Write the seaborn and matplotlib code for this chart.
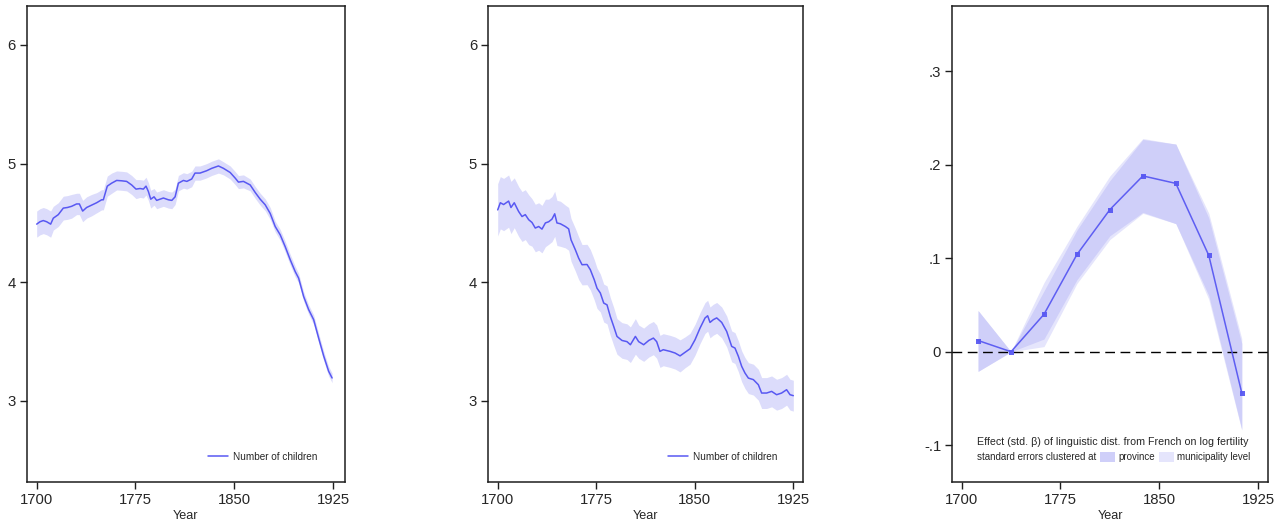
import numpy as np
import pandas as pd
import matplotlib
matplotlib.use("Agg")
import matplotlib.pyplot as plt
import seaborn as sns
from matplotlib.patches import Patch

# ---------------- data ----------------
years1 = [1700, 1702.5, 1705, 1707.6, 1710.6, 1712.6, 1716.4, 1720.2, 1723.3, 1726.5,
          1730.3, 1732.4, 1734.9, 1737.9, 1741.7, 1745.5, 1749.3, 1750.6, 1753.6, 1756.9,
          1760.7, 1764.5, 1768.3, 1772.1, 1775.4, 1778.5, 1781, 1783, 1784.8, 1786.6,
          1789.1, 1791.1, 1796.2, 1800, 1802.6, 1805.1, 1807.6, 1811.4, 1814, 1817.7,
          1820.2, 1824, 1829.1, 1832.9, 1838, 1841.8, 1846.9, 1850.7, 1853.2, 1857,
          1862.1, 1865.9, 1869.7, 1873.5, 1877.3, 1881.1, 1884.9, 1888.7, 1892.5, 1896.3,
          1898.9, 1902.7, 1906.5, 1910.3, 1914.1, 1917.9, 1921.7, 1924.3]
children1 = [4.49, 4.51, 4.52, 4.51, 4.49, 4.54, 4.57, 4.625, 4.63, 4.64,
             4.66, 4.66, 4.60, 4.63, 4.65, 4.67, 4.695, 4.695, 4.81, 4.835,
             4.858, 4.855, 4.85, 4.82, 4.785, 4.79, 4.785, 4.81, 4.765, 4.70,
             4.72, 4.69, 4.71, 4.695, 4.69, 4.72, 4.835, 4.858, 4.85, 4.87,
             4.92, 4.92, 4.94, 4.96, 4.98, 4.96, 4.925, 4.878, 4.844, 4.85,
             4.82, 4.757, 4.70, 4.653, 4.58, 4.47, 4.40, 4.30, 4.19, 4.09,
             4.035, 3.88, 3.77, 3.685, 3.53, 3.38, 3.25, 3.194]
halfci1 = [0.11, 0.11, 0.11, 0.11, 0.11, 0.10, 0.10, 0.10, 0.10, 0.10,
           0.09, 0.09, 0.09, 0.09, 0.09, 0.085, 0.085, 0.085, 0.085, 0.085,
           0.08, 0.08, 0.08, 0.08, 0.08, 0.075, 0.075, 0.075, 0.075, 0.075,
           0.07, 0.07, 0.07, 0.07, 0.07, 0.065, 0.065, 0.065, 0.065, 0.065,
           0.06, 0.06, 0.06, 0.06, 0.06, 0.055, 0.055, 0.055, 0.055, 0.055,
           0.05, 0.05, 0.05, 0.05, 0.05, 0.045, 0.045, 0.045, 0.045, 0.045,
           0.04, 0.04, 0.04, 0.04, 0.04, 0.04, 0.04, 0.04]

years2 = [1700, 1702, 1704.5, 1708.3, 1710.1, 1712.6, 1715.9, 1718.5, 1721, 1723.6,
          1726.1, 1728.6, 1731.2, 1733.7, 1736.3, 1738.8, 1741.3, 1743.4, 1745.1, 1747.7,
          1751.5, 1754, 1755.8, 1759.1, 1761.6, 1764.2, 1768, 1770.5, 1773.5, 1775.6,
          1778.1, 1780.7, 1783.2, 1785.7, 1788.3, 1790.8, 1794.6, 1798.4, 1801, 1804.8,
          1807.3, 1811.1, 1815, 1818.5, 1821, 1823.5, 1826, 1831.2, 1835, 1838.8,
          1842.6, 1846.4, 1850.2, 1854, 1857.8, 1859.8, 1861.6, 1864.1, 1866.7, 1870.5,
          1874.3, 1878.1, 1880.6, 1883.2, 1885.7, 1888.2, 1890.8, 1894.6, 1898.4, 1900.9,
          1904.7, 1908.5, 1912.3, 1916.1, 1919.9, 1922.5, 1925]
children2 = [4.61, 4.67, 4.655, 4.684, 4.63, 4.67, 4.597, 4.554, 4.57, 4.527,
             4.504, 4.457, 4.47, 4.448, 4.50, 4.51, 4.532, 4.577, 4.50, 4.493,
             4.47, 4.45, 4.358, 4.274, 4.204, 4.148, 4.15, 4.106, 4.021, 3.95,
             3.91, 3.825, 3.81, 3.712, 3.628, 3.544, 3.51, 3.50, 3.474, 3.544,
             3.50, 3.474, 3.51, 3.53, 3.50, 3.418, 3.432, 3.418, 3.404, 3.38,
             3.41, 3.44, 3.516, 3.614, 3.699, 3.718, 3.662, 3.685, 3.70, 3.662,
             3.586, 3.46, 3.446, 3.376, 3.292, 3.236, 3.193, 3.18, 3.137, 3.067,
             3.067, 3.081, 3.053, 3.067, 3.095, 3.053, 3.045]
halfci2 = [0.22, 0.22, 0.22, 0.22, 0.22, 0.21, 0.21, 0.21, 0.21, 0.21,
           0.20, 0.20, 0.20, 0.20, 0.20, 0.19, 0.19, 0.19, 0.19, 0.19,
           0.18, 0.18, 0.18, 0.18, 0.18, 0.17, 0.17, 0.17, 0.17, 0.17,
           0.16, 0.16, 0.16, 0.16, 0.16, 0.15, 0.15, 0.15, 0.15, 0.15,
           0.14, 0.14, 0.14, 0.14, 0.14, 0.135, 0.135, 0.135, 0.135, 0.135,
           0.13, 0.13, 0.13, 0.13, 0.13, 0.13, 0.13, 0.13, 0.13, 0.13,
           0.13, 0.13, 0.13, 0.13, 0.13, 0.13, 0.13, 0.13, 0.13, 0.13,
           0.13, 0.13, 0.13, 0.13, 0.13, 0.13, 0.13]

years3 = [1712.5, 1737.5, 1762.5, 1787.5, 1812.5, 1837.5, 1862.5, 1887.5, 1912.5]
beta = [0.012, 0.0, 0.040, 0.104, 0.152, 0.188, 0.180, 0.103, -0.044]
prov_lo = [-0.021, 0.0, 0.0136, 0.077, 0.124, 0.149, 0.137, 0.060, -0.083]
prov_hi = [0.044, 0.0, 0.065, 0.130, 0.183, 0.227, 0.222, 0.143, 0.009]
muni_lo = [-0.021, 0.0, 0.0055, 0.073, 0.120, 0.148, 0.137, 0.056, -0.084]
muni_hi = [0.044, 0.0, 0.074, 0.134, 0.188, 0.228, 0.222, 0.148, 0.014]

xticks = [1700, 1775, 1850, 1925]
yticks12 = [3, 4, 5, 6]
yticks3 = [-0.1, 0, 0.1, 0.2, 0.3]
yticklabels3 = ["-.1", "0", ".1", ".2", ".3"]

legend_line = "Number of children"
legend3_title = "Effect (std. β) of linguistic dist. from French on log fertility"
legend3_labels = ["standard errors clustered at", "province", "municipality level"]

# ---------------- style ----------------
sns.set_style("ticks")
plt.rcParams["font.family"] = ["Liberation Sans", "DejaVu Sans"]

LINE = "#5858f2"
BAND = "#dcdcfb"
BAND_DARK = "#cfcff9"
BAND_LIGHT = "#e5e5fc"
FRAME = "#1e1e1e"

fig = plt.figure(figsize=(12.83, 5.24), dpi=100)
bottom, height = 0.0807, 0.9084
ax1 = fig.add_axes([0.0208, bottom, 0.2481, height])
ax2 = fig.add_axes([0.3806, bottom, 0.2455, height])
ax3 = fig.add_axes([0.7422, bottom, 0.2463, height])


def style_axes(ax):
    for s in ax.spines.values():
        s.set_visible(True)
        s.set_color(FRAME)
        s.set_linewidth(1.1)
    ax.tick_params(axis="both", direction="out", length=5, width=1,
                   labelsize=10.7, pad=3, color=FRAME,
                   top=False, right=False)
    ax.set_xticks(xticks)
    ax.set_xlabel("Year", fontsize=9.1, labelpad=2.5)
    ax.set_ylabel("")
    ax.grid(False)


def fertility_panel(ax, years, vals, half, xlim, legx):
    df = pd.DataFrame({"year": years, "value": vals, "half": half})
    ax.fill_between(df["year"], df["value"] - df["half"], df["value"] + df["half"],
                    color=BAND, linewidth=0, zorder=1)
    sns.lineplot(data=df, x="year", y="value", ax=ax, color=LINE, lw=1.1,
                 estimator=None, label=legend_line, zorder=3)
    ax.set_xlim(*xlim)
    ax.set_ylim(2.32, 6.33)
    ax.set_yticks(yticks12)
    style_axes(ax)
    ax.legend(loc="center right", bbox_to_anchor=(legx, 0.052), frameon=False,
              fontsize=7.2, handlelength=2.0, handletextpad=0.5,
              borderpad=0, borderaxespad=0)


fertility_panel(ax1, years1, children1, halfci1, (1692.4, 1934.1), 0.9125)
fertility_panel(ax2, years2, children2, halfci2, (1692.85, 1932.6), 0.919)

# third panel
df3 = pd.DataFrame({"year": years3, "beta": beta, "plo": prov_lo, "phi": prov_hi,
                    "mlo": muni_lo, "mhi": muni_hi})
ax3.fill_between(df3["year"], df3["mlo"], df3["mhi"], color=BAND_LIGHT, linewidth=0, zorder=1)
ax3.fill_between(df3["year"], df3["plo"], df3["phi"], color=BAND_DARK, linewidth=0, zorder=2)
ax3.axhline(0, color="black", lw=1, ls=(0, (7, 4)), zorder=3)
sns.lineplot(data=df3, x="year", y="beta", ax=ax3, color=LINE, lw=1.1,
             marker="s", markersize=3.6, markeredgewidth=0, alpha=0.95,
             estimator=None, zorder=4)
ax3.set_xlim(1692.9, 1932.6)
ax3.set_ylim(-0.139, 0.370)
ax3.set_yticks(yticks3)
ax3.set_yticklabels(yticklabels3)
style_axes(ax3)

handles3 = [Patch(facecolor=BAND_DARK, edgecolor="none"),
            Patch(facecolor=BAND_LIGHT, edgecolor="none"),
            Patch(facecolor="none", edgecolor="none")]
leg3 = ax3.legend(handles3, legend3_labels, title=legend3_title, ncol=3,
                  markerfirst=False, loc="lower left", alignment="left",
                  bbox_to_anchor=(0.078, 0.041), frameon=False,
                  fontsize=7.0, title_fontsize=7.7, handlelength=1.5,
                  handleheight=1.1, handletextpad=0.4, columnspacing=0.4,
                  borderpad=0, borderaxespad=0)

fig.savefig("out.png", dpi=100)
